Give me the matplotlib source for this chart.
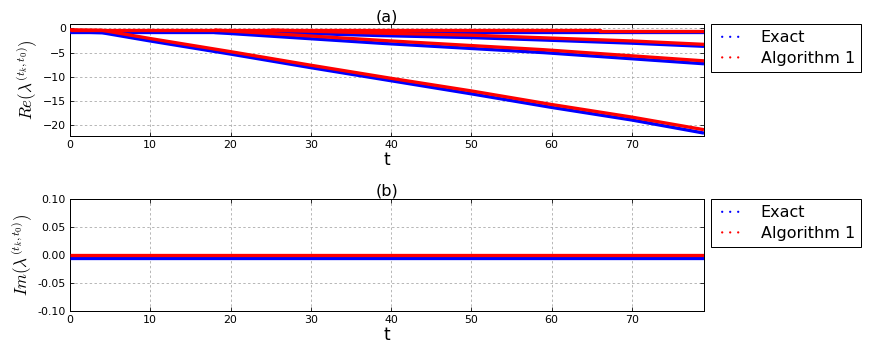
import matplotlib
matplotlib.use("Agg")
import matplotlib.pyplot as plt

t_top = [0, 66, 66, 79]
re_top_exact = [-0.85, -0.85, -0.85, -0.85]
re_top_alg = [-0.35, -0.35, -0.45, -0.45]

t_steep = [0, 4, 10, 20, 30, 40, 50, 60, 70, 79]
re_steep_exact = [-0.7, -0.9, -2.6, -5.3, -8.1, -10.8, -13.5, -16.3, -18.9, -21.6]
re_steep_alg = [-0.3, -0.4, -2.1, -4.8, -7.6, -10.3, -12.9, -15.7, -18.3, -20.9]

t_mid = [18, 39, 59, 79]
re_mid_exact = [-0.85, -3.1, -5.0, -7.3]
re_mid_alg = [-0.35, -2.5, -4.4, -6.7]

t_low = [25, 39, 50, 59, 70, 79]
re_low_exact = [-0.85, -1.5, -1.9, -2.4, -3.05, -3.7]
re_low_alg = [-0.35, -1.0, -1.4, -1.95, -2.6, -3.3]

# imaginary part
t_im = [0, 79]
im_exact = [-0.005, -0.005]
im_alg = [0.0, 0.0]

xticks = [0, 10, 20, 30, 40, 50, 60, 70]
re_yticks = [0, -5, -10, -15, -20]
im_yticks = [-0.10, -0.05, 0.00, 0.05, 0.10]

plt.rcParams['mathtext.fontset'] = 'cm'
plt.rcParams['xtick.direction'] = 'in'
plt.rcParams['ytick.direction'] = 'in'
plt.rcParams['xtick.top'] = True
plt.rcParams['ytick.right'] = True

W, H = 869, 352
fig = plt.figure(figsize=(W / 72, H / 72), dpi=72)
ax1 = fig.add_axes([70 / W, 1 - 136 / H, 634 / W, 112 / H])
ax2 = fig.add_axes([70 / W, 1 - 311 / H, 634 / W, 112 / H])

branches = [(t_top, re_top_exact, re_top_alg),
            (t_steep, re_steep_exact, re_steep_alg),
            (t_mid, re_mid_exact, re_mid_alg),
            (t_low, re_low_exact, re_low_alg)]

lw = 3.3
for t, ye, ya in branches:
    ax1.plot(t, ye, color='b', lw=lw, solid_capstyle='butt', zorder=3)
for t, ye, ya in branches:
    ax1.plot(t, ya, color='r', lw=lw, solid_capstyle='butt', zorder=4)

ax2.plot(t_im, im_exact, color='b', lw=lw, solid_capstyle='butt', zorder=3)
ax2.plot(t_im, im_alg, color='r', lw=lw, solid_capstyle='butt', zorder=4)

ax1.set_ylim(-22.2, 0.9)
ax1.set_yticks(re_yticks)
ax2.set_ylim(-0.1, 0.1)
ax2.set_yticks(im_yticks)
ax2.set_yticklabels(['%.2f' % v for v in im_yticks])

for ax, title, ylab in [(ax1, '(a)', r'$Re(\lambda^{(t_k,t_0)})$'),
                        (ax2, '(b)', r'$Im(\lambda^{(t_k,t_0)})$')]:
    ax.set_xlim(0, 79)
    ax.set_xticks(xticks)
    ax.tick_params(labelsize=11, length=4, pad=4)
    ax.grid(True, color='0.65', linestyle=(0, (3, 3)), lw=0.8)
    ax.set_axisbelow(True)
    ax.set_title(title, fontsize=16, pad=3)
    ax.set_xlabel('t', fontsize=17, labelpad=1)
    ax.set_ylabel(ylab, fontsize=17, labelpad=4)
    for s in ax.spines.values():
        s.set_linewidth(1.0)
    h1 = ax.scatter([], [], s=5, c='b', edgecolors='none', label='Exact')
    h2 = ax.scatter([], [], s=5, c='r', edgecolors='none', label='Algorithm 1')
    leg = ax.legend(handles=[h1, h2], loc='upper left', bbox_to_anchor=(1 + 7 / 634, 1.0),
                    borderaxespad=0, scatterpoints=3, scatteryoffsets=[0.5],
                    fontsize=16, fancybox=False, framealpha=1, edgecolor='k',
                    handlelength=1.6, handletextpad=1.1, borderpad=0.4,
                    labelspacing=0.35)
    leg.get_frame().set_linewidth(1.0)

fig.savefig('out.png', dpi=72, facecolor='white')
